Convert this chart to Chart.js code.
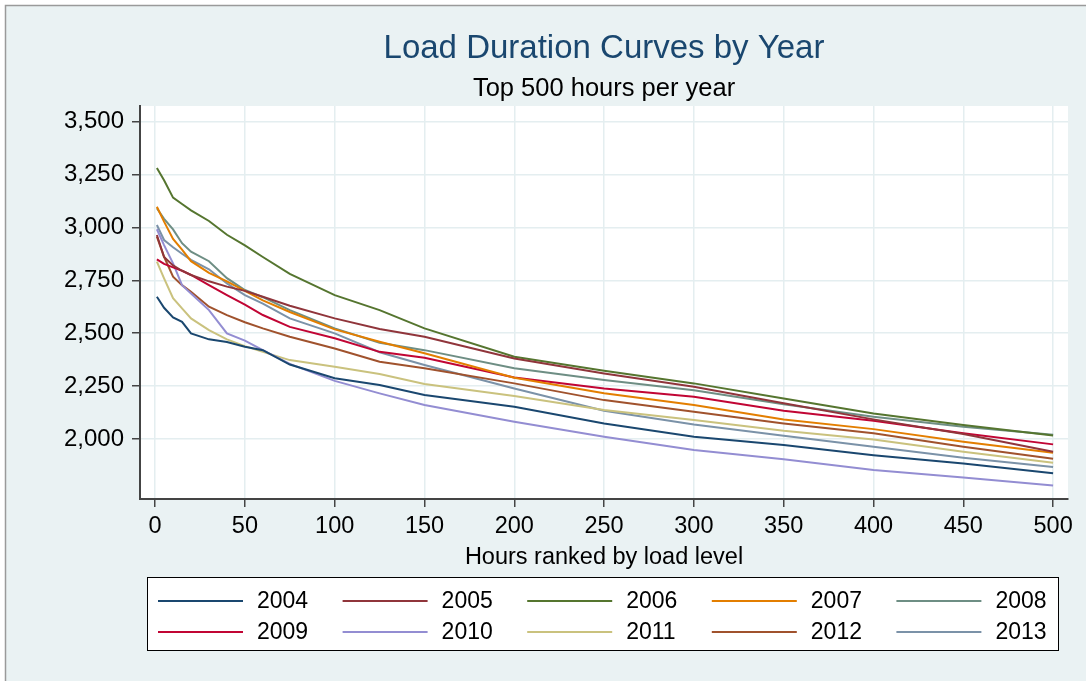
<!DOCTYPE html>
<html>
<head>
<meta charset="utf-8">
<script src="https://cdn.jsdelivr.net/npm/chart.js@4/dist/chart.umd.min.js"></script>
<style>
    html, body { margin: 0; padding: 0; background: #fff; }
    #wrap { width: 1086px; height: 681px; }
</style>
</head>
<body>
<div id="wrap"><canvas id="ldcChart" width="1086" height="681"></canvas></div>
<script>
// ==================== DATOS ====================
// horas ordenadas por nivel de carga
const hours = [1, 5, 10, 15, 20, 30, 40, 50, 60, 75, 100, 125, 150, 200, 250, 300, 350, 400, 450, 500];

const load2004 = [2672, 2620, 2575, 2554, 2499, 2471, 2458, 2436, 2420, 2352, 2287, 2255, 2208, 2153, 2074, 2011, 1972, 1924, 1885, 1839];
const load2005 = [2964, 2860, 2820, 2795, 2775, 2745, 2720, 2700, 2672, 2630, 2570, 2520, 2483, 2381, 2310, 2247, 2169, 2093, 2024, 1940];
const load2006 = [3280, 3222, 3140, 3110, 3080, 3030, 2965, 2915, 2860, 2780, 2680, 2609, 2523, 2389, 2323, 2263, 2192, 2121, 2066, 2017];
const load2007 = [3097, 3027, 2945, 2895, 2840, 2785, 2745, 2700, 2655, 2600, 2518, 2460, 2405, 2290, 2216, 2161, 2093, 2047, 1987, 1935];
const load2008 = [3090, 3040, 2990, 2925, 2885, 2840, 2760, 2704, 2670, 2609, 2523, 2455, 2420, 2334, 2279, 2231, 2165, 2105, 2058, 2020];
const load2009 = [2849, 2827, 2811, 2795, 2775, 2727, 2680, 2635, 2586, 2530, 2476, 2412, 2384, 2291, 2239, 2200, 2134, 2086, 2027, 1975];
const load2010 = [2991, 2916, 2830, 2727, 2688, 2609, 2499, 2465, 2420, 2355, 2275, 2216, 2161, 2082, 2011, 1948, 1905, 1854, 1819, 1781];
const load2011 = [2838, 2759, 2665, 2617, 2570, 2515, 2471, 2439, 2412, 2373, 2342, 2307, 2260, 2203, 2137, 2090, 2039, 1998, 1940, 1888];
const load2012 = [2956, 2861, 2767, 2727, 2696, 2625, 2585, 2552, 2523, 2483, 2428, 2365, 2334, 2263, 2184, 2129, 2074, 2027, 1964, 1907];
const load2013 = [3011, 2940, 2906, 2875, 2846, 2802, 2735, 2680, 2640, 2570, 2499, 2410, 2350, 2239, 2134, 2069, 2016, 1964, 1912, 1868];

const years = ['2004', '2005', '2006', '2007', '2008', '2009', '2010', '2011', '2012', '2013'];
const yearColors = ['#1a476f', '#90353b', '#55752f', '#e37e00', '#6e8e84',
                    '#c10534', '#938dd2', '#cac27e', '#a0522d', '#7b92a8'];

const yTicks = [2000, 2250, 2500, 2750, 3000, 3250, 3500];
const xTicks = [0, 50, 100, 150, 200, 250, 300, 350, 400, 450, 500];

const FONT = "'Liberation Sans', Arial, Helvetica, sans-serif";
const BG = '#eaf2f3';

const series = [load2004, load2005, load2006, load2007, load2008,
                load2009, load2010, load2011, load2012, load2013];

// ==================== PLUGINS ====================

// fondo estilo Stata: región gris azulada + área de trazado blanca
const fondoPlugin = {
    id: 'fondo',
    beforeDraw(chart) {
        const { ctx, width, height, chartArea } = chart;
        ctx.save();
        ctx.fillStyle = '#fff';
        ctx.fillRect(0, 0, width, height);
        ctx.fillStyle = BG;
        ctx.fillRect(6, 6, width - 6, height - 6);
        ctx.strokeStyle = '#9a9a9a';
        ctx.lineWidth = 1.5;
        ctx.beginPath();
        ctx.moveTo(5.5, height);
        ctx.lineTo(5.5, 5.5);
        ctx.lineTo(width, 5.5);
        ctx.stroke();
        ctx.fillStyle = '#fff';
        ctx.fillRect(chartArea.left, chartArea.top, chartArea.right - chartArea.left, chartArea.bottom - chartArea.top);
        ctx.restore();
    }
};

// títulos y leyenda con recuadro
const textosPlugin = {
    id: 'textos',
    afterDraw(chart) {
        const { ctx, chartArea } = chart;
        const cx = (chartArea.left + chartArea.right) / 2;
        ctx.save();
        ctx.textAlign = 'center';
        ctx.textBaseline = 'middle';
        ctx.fillStyle = '#1a476f';
        ctx.font = '33px ' + FONT;
        ctx.fillText('Load Duration Curves by Year', cx, 49);
        ctx.fillStyle = '#000';
        ctx.font = '25.5px ' + FONT;
        ctx.fillText('Top 500 hours per year', cx, 89);

        // Leyenda
        const box = { x: 147.5, y: 577.5, w: 911, h: 73 };
        ctx.fillStyle = '#fff';
        ctx.fillRect(box.x, box.y, box.w, box.h);
        ctx.strokeStyle = '#000';
        ctx.lineWidth = 1;
        ctx.strokeRect(box.x, box.y, box.w, box.h);

        ctx.font = '23px ' + FONT;
        ctx.textAlign = 'left';
        chart.data.datasets.forEach((ds, i) => {
            const col = i % 5;
            const row = Math.floor(i / 5);
            const x0 = 158 + col * 184.6;
            const y0 = 601 + row * 31;
            ctx.strokeStyle = ds.borderColor;
            ctx.lineWidth = 2;
            ctx.beginPath();
            ctx.moveTo(x0, y0);
            ctx.lineTo(x0 + 85, y0);
            ctx.stroke();
            ctx.fillStyle = '#000';
            ctx.fillText(ds.label, x0 + 99, y0 + 1);
        });
        ctx.restore();
    }
};

// ==================== GRÁFICO ====================

const datasets = years.map((year, i) => ({
    label: year,
    data: hours.map((h, j) => ({ x: h, y: series[i][j] })),
    borderColor: yearColors[i],
    backgroundColor: yearColors[i],
    borderWidth: 2,
    pointRadius: 0,
    tension: 0,
    fill: false
}));

new Chart(document.getElementById('ldcChart'), {
    type: 'line',
    data: { datasets: datasets },
    options: {
        responsive: false,
        animation: false,
        devicePixelRatio: 1,
        layout: { padding: { top: 106, right: 18, bottom: 112, left: 0 } },
        plugins: {
            legend: { display: false },
            title: { display: false },
            tooltip: { enabled: false }
        },
        scales: {
            x: {
                type: 'linear',
                min: -8.4,
                max: 508.3,
                afterBuildTicks: scale => { scale.ticks = xTicks.map(v => ({ value: v })); },
                afterFit: scale => { scale.height = 70; },
                ticks: {
                    autoSkip: false,
                    maxRotation: 0,
                    color: '#000',
                    padding: 8,
                    font: { family: FONT, size: 23.5, lineHeight: 1 }
                },
                grid: { color: '#e4eef0', lineWidth: 1.5, tickLength: 8, tickColor: '#444', tickWidth: 1.5 },
                border: { color: '#444', width: 2 },
                title: {
                    display: true,
                    text: 'Hours ranked by load level',
                    color: '#000',
                    padding: { top: 0, bottom: 0 },
                    font: { family: FONT, size: 23.5, lineHeight: 1 }
                }
            },
            y: {
                type: 'linear',
                min: 1717,
                max: 3573,
                afterBuildTicks: scale => { scale.ticks = yTicks.map(v => ({ value: v })); },
                afterFit: scale => { scale.width = 140; },
                ticks: {
                    color: '#000',
                    padding: 8,
                    font: { family: FONT, size: 24 },
                    callback: v => v.toLocaleString('en-US')
                },
                grid: { color: '#e4eef0', lineWidth: 1.5, tickLength: 8, tickColor: '#444', tickWidth: 1.5 },
                border: { color: '#444', width: 2 }
            }
        }
    },
    plugins: [fondoPlugin, textosPlugin]
});
</script>
</body>
</html>
